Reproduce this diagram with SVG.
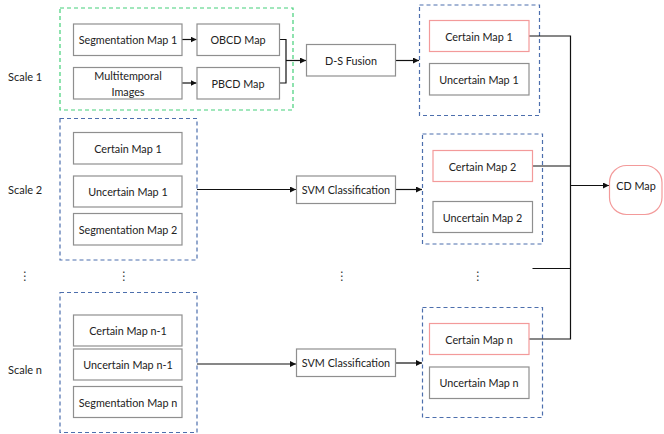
<svg xmlns="http://www.w3.org/2000/svg" width="664" height="434" viewBox="0 0 664 434">
  <style>
    .box { fill: #ffffff; stroke: #8f8f8f; stroke-width: 1.2; }
    .hot { fill: #ffffff; stroke: #f39a9a; stroke-width: 1.2; }
    .grp { fill: none; stroke: #4d6fad; stroke-width: 1.2; stroke-dasharray: 4 3; }
    .grp-g { fill: none; stroke: #45d07a; stroke-width: 1.2; stroke-dasharray: 4 3; }
    .lbl { font-family: Lato, "Liberation Sans", sans-serif; font-size: 10.8px; fill: #222222; text-anchor: middle; dominant-baseline: central; }
    .side { font-family: Lato, "Liberation Sans", sans-serif; font-size: 11px; fill: #222222; dominant-baseline: central; }
    .dots { font-family: "DejaVu Sans", sans-serif; font-size: 12px; fill: #333333; text-anchor: middle; dominant-baseline: central; }
    .wire { fill: none; stroke: #111111; stroke-width: 1.2; }
    .wire-a { fill: none; stroke: #111111; stroke-width: 1.2; marker-end: url(#arr); }
  </style>
  <defs>
    <marker id="arr" viewBox="0 0 8 8" refX="8" refY="4" markerWidth="6" markerHeight="6" markerUnits="userSpaceOnUse" orient="auto">
      <path d="M0,0 L8,4 L0,8 z" fill="#111111"/>
    </marker>
  </defs>

  <rect width="664" height="434" fill="#ffffff"/>

  <!-- scale labels -->
  <text class="side" x="8" y="76">Scale 1</text>
  <text class="side" x="8" y="189">Scale 2</text>
  <text class="side" x="8" y="369">Scale n</text>

  <!-- ellipsis markers between scales -->
  <text class="dots" x="25" y="276">⋮</text>
  <text class="dots" x="124" y="276">⋮</text>
  <text class="dots" x="342" y="276">⋮</text>
  <text class="dots" x="478" y="276">⋮</text>

  <!-- group frames -->
  <rect class="grp-g" x="60" y="8" width="233" height="102"/>
  <rect class="grp" x="419.5" y="5" width="120" height="110.5"/>
  <rect class="grp" x="60" y="118.5" width="137" height="141.5"/>
  <rect class="grp" x="422.5" y="134" width="120" height="110"/>
  <rect class="grp" x="60" y="292.5" width="137" height="140"/>
  <rect class="grp" x="422.5" y="307.5" width="120" height="110"/>

  <!-- connectors -->
  <g id="connectors">
    <path class="wire-a" d="M182,39.5 H196.5"/>
    <path class="wire-a" d="M182,83 H196.5"/>
    <path class="wire" d="M279.5,39.5 H286 V83 H279.5"/>
    <path class="wire-a" d="M286,60.5 H306"/>
    <path class="wire-a" d="M395.5,60.5 H419"/>
    <path class="wire-a" d="M197,189.5 H296"/>
    <path class="wire-a" d="M395.5,189.5 H422"/>
    <path class="wire-a" d="M197,364 H296"/>
    <path class="wire-a" d="M395.5,363 H422"/>
    <path class="wire" d="M529,36 H570.5 V339 H529"/>
    <path class="wire" d="M532.5,166 H570.5"/>
    <path class="wire" d="M532.5,268.5 H570.5"/>
    <path class="wire-a" d="M570.5,185.5 H609"/>
  </g>

  <!-- scale 1 -->
  <g id="seg1"><rect class="box" x="73.5" y="24" width="108.5" height="31.5"/><text class="lbl" x="128" y="39.5">Segmentation Map 1</text></g>
  <g id="multi"><rect class="box" x="73.5" y="67.5" width="108.5" height="31.5"/><text class="lbl" x="128" y="75.5">Multitemporal</text><text class="lbl" x="128" y="91">Images</text></g>
  <g id="obcd"><rect class="box" x="197" y="24" width="82.5" height="31.5"/><text class="lbl" x="238" y="39.5">OBCD Map</text></g>
  <g id="pbcd"><rect class="box" x="197" y="67.5" width="82.5" height="31.5"/><text class="lbl" x="238" y="83">PBCD Map</text></g>
  <g id="ds"><rect class="box" x="306.5" y="44.5" width="89" height="31.5"/><text class="lbl" x="351" y="60.5">D-S Fusion</text></g>
  <g id="cert1"><rect class="hot" x="429.5" y="20.5" width="99.5" height="31"/><text class="lbl" x="479" y="36">Certain Map 1</text></g>
  <g id="unc1"><rect class="box" x="429.5" y="63.5" width="99.5" height="31.5"/><text class="lbl" x="479" y="79.5">Uncertain Map 1</text></g>

  <!-- scale 2 -->
  <g id="s2-cert1"><rect class="box" x="73.5" y="132.5" width="108.5" height="31.5"/><text class="lbl" x="128" y="148">Certain Map 1</text></g>
  <g id="s2-unc1"><rect class="box" x="73.5" y="176" width="108.5" height="31"/><text class="lbl" x="128" y="191.5">Uncertain Map 1</text></g>
  <g id="s2-seg2"><rect class="box" x="73.5" y="213.5" width="108.5" height="31.5"/><text class="lbl" x="128" y="229">Segmentation Map 2</text></g>
  <g id="svm2"><rect class="box" x="296.5" y="176" width="99" height="27.5"/><text class="lbl" x="346" y="189.5">SVM Classification</text></g>
  <g id="cert2"><rect class="hot" x="433" y="150.5" width="99.5" height="31"/><text class="lbl" x="482.5" y="166">Certain Map 2</text></g>
  <g id="unc2"><rect class="box" x="433" y="201.5" width="99.5" height="31"/><text class="lbl" x="482.5" y="217">Uncertain Map 2</text></g>

  <!-- scale n -->
  <g id="sn-cert"><rect class="box" x="73.5" y="315" width="108.5" height="31"/><text class="lbl" x="128" y="330.5">Certain Map n-1</text></g>
  <g id="sn-unc"><rect class="box" x="73.5" y="349" width="108.5" height="31"/><text class="lbl" x="128" y="364.5">Uncertain Map n-1</text></g>
  <g id="sn-seg"><rect class="box" x="73.5" y="386.5" width="108.5" height="31"/><text class="lbl" x="128" y="402">Segmentation Map n</text></g>
  <g id="svmn"><rect class="box" x="296.5" y="349" width="99" height="27.5"/><text class="lbl" x="346" y="362.5">SVM Classification</text></g>
  <g id="certn"><rect class="hot" x="429.5" y="323.5" width="99.5" height="31"/><text class="lbl" x="479" y="339">Certain Map n</text></g>
  <g id="uncn"><rect class="box" x="429.5" y="367" width="99.5" height="31.5"/><text class="lbl" x="479" y="382.5">Uncertain Map n</text></g>

  <!-- result -->
  <g id="cdmap"><rect class="hot" x="609.5" y="165.5" width="52.5" height="49" rx="17" ry="17"/><text class="lbl" x="636" y="185.5">CD Map</text></g>
</svg>
